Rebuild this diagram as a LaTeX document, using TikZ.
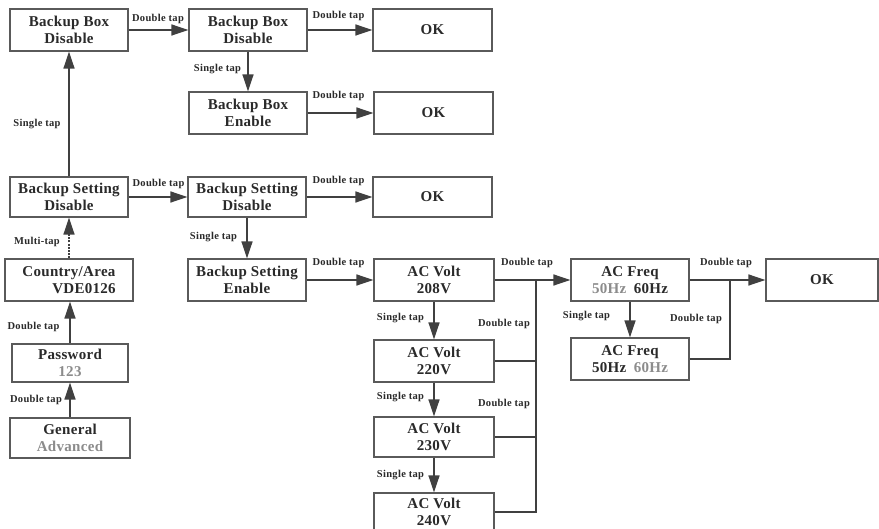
\documentclass[tikz,border=0pt]{standalone}
\usepackage{fontspec}
\setmainfont{Liberation Serif}
\newfontfamily\boxfont{Liberation Serif}[LetterSpace=2]
\newfontfamily\lblfont{Liberation Serif}[LetterSpace=3]
\usetikzlibrary{arrows.meta}
\definecolor{boxgray}{HTML}{5A5A5A}
\definecolor{linecol}{HTML}{404040}
\definecolor{textcol}{HTML}{2A2A2A}
\definecolor{dim}{HTML}{8C8C8C}
\tikzset{
  box/.style={draw=boxgray, line width=1.2pt, fill=white, minimum width=#1, minimum height=42pt,
    align=center, inner sep=0pt, text=textcol,
    font=\boxfont\bfseries\fontsize{15}{17}\selectfont},
  lbl/.style={font=\lblfont\bfseries\fontsize{10.5}{12}\selectfont, text=textcol, inner sep=0pt},
  arr/.style={draw=linecol, line width=1.5pt, -{Triangle[length=17pt,width=11pt]}},
  ln/.style={draw=linecol, line width=1.5pt},
}
\begin{document}
\begin{tikzpicture}[x=1pt,y=-1pt]
\clip (0,0) rectangle (879,529);
\fill[white] (0,0) rectangle (879,529);
% boxes
\node[box=118pt] (b1) at (69,30) {Backup Box\\Disable};
\node[box=118pt] (b2) at (248,30) {Backup Box\\Disable};
\node[box=119pt] (ok1) at (432.5,30) {OK};
\node[box=118pt] (b3) at (248,113) {Backup Box\\Enable};
\node[box=119pt] (ok2) at (433.5,113) {OK};
\node[box=118pt, minimum height=40pt] (bsdL) at (69,197) {Backup Setting\\Disable};
\node[box=118pt, minimum height=40pt] (bsdM) at (247,197) {Backup Setting\\Disable};
\node[box=119pt, minimum height=40pt] (ok3) at (432.5,197) {OK};
\node[box=128pt] (country) at (69,280) {Country/Area\\\hspace*{30pt}VDE0126};
\node[box=118pt] (bse) at (247,280) {Backup Setting\\Enable};
\node[box=120pt] (ac208) at (434,280) {AC Volt\\208V};
\node[box=118pt] (acf1) at (630,280) {AC Freq\\{\color{dim}50Hz}\enspace 60Hz};
\node[box=112pt] (ok4) at (822,280) {OK};
\node[box=116pt, minimum height=38pt] (password) at (70,363) {Password\\{\color{dim}123}};
\node[box=120pt] (ac220) at (434,361) {AC Volt\\220V};
\node[box=118pt] (acf2) at (630,359) {AC Freq\\50Hz\enspace{\color{dim}60Hz}};
\node[box=120pt, minimum height=40pt] (general) at (70,438) {General\\{\color{dim}Advanced}};
\node[box=120pt, minimum height=40pt] (ac230) at (434,437) {AC Volt\\230V};
\node[box=120pt, minimum height=38pt] (ac240) at (434,512) {AC Volt\\240V};
% bus points
\coordinate (busA) at (536,280);
\coordinate (busB) at (730,280);
% connectors
\draw[arr] (b1.east) -- (b2.west);
\draw[arr] (b2.east) -- (ok1.west |- b2.east);
\draw[arr] (b2.south) -- (b3.north);
\draw[arr] (b3.east) -- (ok2.west);
\draw[arr] (bsdL.north) -- (b1.south);
\draw[arr] (bsdL.east) -- (bsdM.west);
\draw[arr] (bsdM.east) -- (ok3.west);
\draw[arr] (bsdM.south) -- (bse.north);
\draw[arr, dash pattern=on 2pt off 1.2pt] (country.north) -- (country.north |- bsdL.south);
\draw[arr] (password.north) -- (password.north |- country.south);
\draw[arr] (general.north) -- (general.north |- password.south);
\draw[arr] (bse.east) -- (ac208.west);
\draw[arr] (ac208.east) -- (acf1.west);
\draw[arr] (ac208.south) -- (ac220.north);
\draw[arr] (ac220.south) -- (ac230.north);
\draw[arr] (ac230.south) -- (ac240.north);
\draw[ln] (ac220.east) -- (ac220.east -| busA);
\draw[ln] (ac230.east) -- (ac230.east -| busA);
\draw[ln] (ac240.east) -- (ac240.east -| busA) -- (busA);
\draw[arr] (acf1.east) -- (ok4.west);
\draw[arr] (acf1.south) -- (acf2.north);
\draw[ln] (acf2.east) -- (acf2.east -| busB) -- (busB);
% labels
\node[lbl] (l1) at (158,19) {Double tap};
\node[lbl] (l2) at (37,124) {Single tap};
\node[lbl] (l3) at (217.5,69) {Single tap};
\node[lbl] (l4) at (338.5,16) {Double tap};
\node[lbl] (l5) at (338.5,96) {Double tap};
\node[lbl] (l6) at (158.5,184) {Double tap};
\node[lbl] (l7) at (37,242) {Multi-tap};
\node[lbl] (l8) at (33.5,327) {Double tap};
\node[lbl] (l9) at (36,400) {Double tap};
\node[lbl] (l10) at (213.5,237) {Single tap};
\node[lbl] (l11) at (338.5,181) {Double tap};
\node[lbl] (l12) at (338.5,263) {Double tap};
\node[lbl] (l13) at (527,263) {Double tap};
\node[lbl] (l14) at (400.5,318) {Single tap};
\node[lbl] (l15) at (504,324) {Double tap};
\node[lbl] (l16) at (400.5,397) {Single tap};
\node[lbl] (l17) at (504,404) {Double tap};
\node[lbl] (l18) at (400.5,475) {Single tap};
\node[lbl] (l19) at (726,263) {Double tap};
\node[lbl] (l20) at (586.5,316) {Single tap};
\node[lbl] (l21) at (696,319) {Double tap};
\end{tikzpicture}
\end{document}
